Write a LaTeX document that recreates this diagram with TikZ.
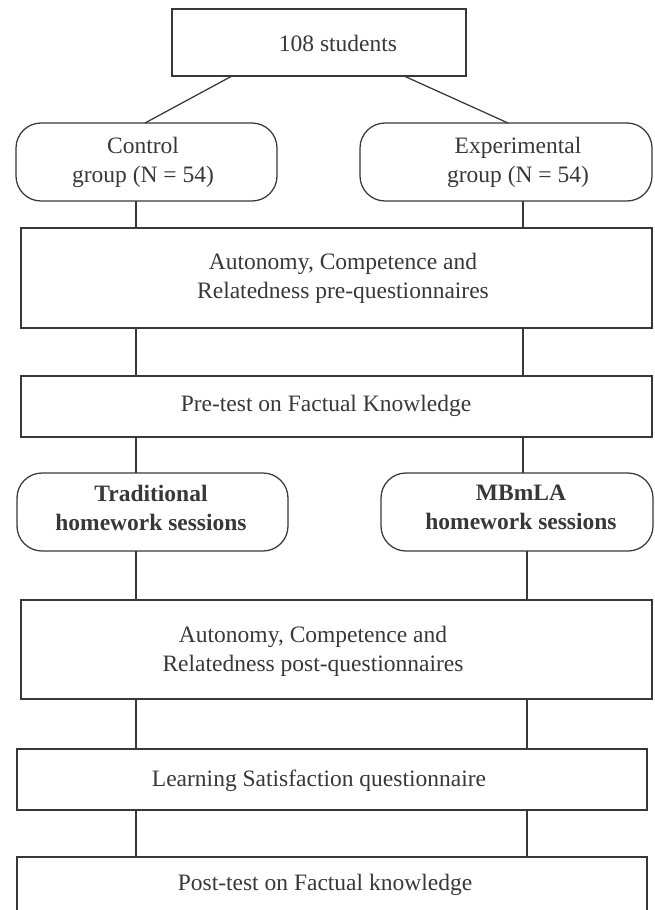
\documentclass[tikz,border=0pt]{standalone}
\usepackage{fontspec}
\setmainfont{Liberation Serif}
\begin{document}
\begin{tikzpicture}[x=1pt,y=-1pt,
  boxline/.style={draw=black!78, line width=1.25pt, inner sep=0pt, outer sep=0pt},
  sqbox/.style={boxline, rectangle},
  rbox/.style={boxline, rectangle, rounded corners=25pt},
  txt/.style={text=black!78, align=center, inner sep=0pt, font=\fontsize{23.5}{29}\selectfont},
  btxt/.style={txt, font=\fontsize{23.5}{29}\selectfont\bfseries},
  link/.style={draw=black!78, line width=1.25pt}]
\useasboundingbox (0,0) rectangle (654,910);
\clip (0,0) rectangle (654,910);
\fill[white] (0,0) rectangle (654,910);
% boxes
\node[sqbox, minimum width=294pt, minimum height=67pt] (top) at (319,42.5) {};
\node[rbox, minimum width=261pt, minimum height=78pt] (ctrl) at (146.5,162) {};
\node[rbox, minimum width=292pt, minimum height=78pt] (exp) at (506,162) {};
\node[sqbox, minimum width=631pt, minimum height=100pt] (pre) at (336.5,278) {};
\node[sqbox, minimum width=631pt, minimum height=61pt] (pretest) at (336.5,406.5) {};
\node[rbox, minimum width=271pt, minimum height=78pt] (trad) at (152.5,512) {};
\node[rbox, minimum width=272pt, minimum height=78pt] (mbm) at (517,512) {};
\node[sqbox, minimum width=631pt, minimum height=99pt] (post) at (336.5,649.5) {};
\node[sqbox, minimum width=630pt, minimum height=61pt] (learn) at (332,779.5) {};
\node[sqbox, minimum width=630pt, minimum height=120pt] (posttest) at (332,917) {};
% texts
\node[txt] (tTop) at (338,43) {108 students};
\node[txt] (tCtrl) at (143,162) {Control\\group (N = 54)};
\node[txt] (tExp) at (518,162) {Experimental\\group (N = 54)};
\node[txt] (tPre) at (343,278) {Autonomy, Competence and\\Relatedness pre-questionnaires};
\node[txt] (tPretest) at (326,405.5) {Pre-test on Factual Knowledge};
\node[btxt] (tTrad) at (151,507.5) {Traditional\\homework sessions};
\node[btxt] (tMbm) at (521,507.5) {MBmLA\\homework sessions};
\node[txt] (tPost) at (313,651) {Autonomy, Competence and\\Relatedness post-questionnaires};
\node[txt] (tLearn) at (319,781) {Learning Satisfaction questionnaire};
\node[txt] (tPosttest) at (325,885) {Post-test on Factual knowledge};
% connector guide coordinates
\coordinate (a1) at (232,0);
\coordinate (a2) at (145,0);
\coordinate (b1) at (404,0);
\coordinate (b2) at (508,0);
\coordinate (L) at (136,0);
\coordinate (R) at (523,0);
\coordinate (R2) at (527,0);
% connectors
\draw[link] (top.south -| a1) -- (ctrl.north -| a2);
\draw[link] (top.south -| b1) -- (exp.north -| b2);
\draw[link] (ctrl.south -| L) -- (pre.north -| L);
\draw[link] (exp.south -| R) -- (pre.north -| R);
\draw[link] (pre.south -| L) -- (pretest.north -| L);
\draw[link] (pre.south -| R) -- (pretest.north -| R);
\draw[link] (pretest.south -| L) -- (trad.north -| L);
\draw[link] (pretest.south -| R) -- (mbm.north -| R);
\draw[link] (trad.south -| L) -- (post.north -| L);
\draw[link] (mbm.south -| R2) -- (post.north -| R2);
\draw[link] (post.south -| L) -- (learn.north -| L);
\draw[link] (post.south -| R2) -- (learn.north -| R2);
\draw[link] (learn.south -| L) -- (posttest.north -| L);
\draw[link] (learn.south -| R2) -- (posttest.north -| R2);
\end{tikzpicture}
\end{document}
